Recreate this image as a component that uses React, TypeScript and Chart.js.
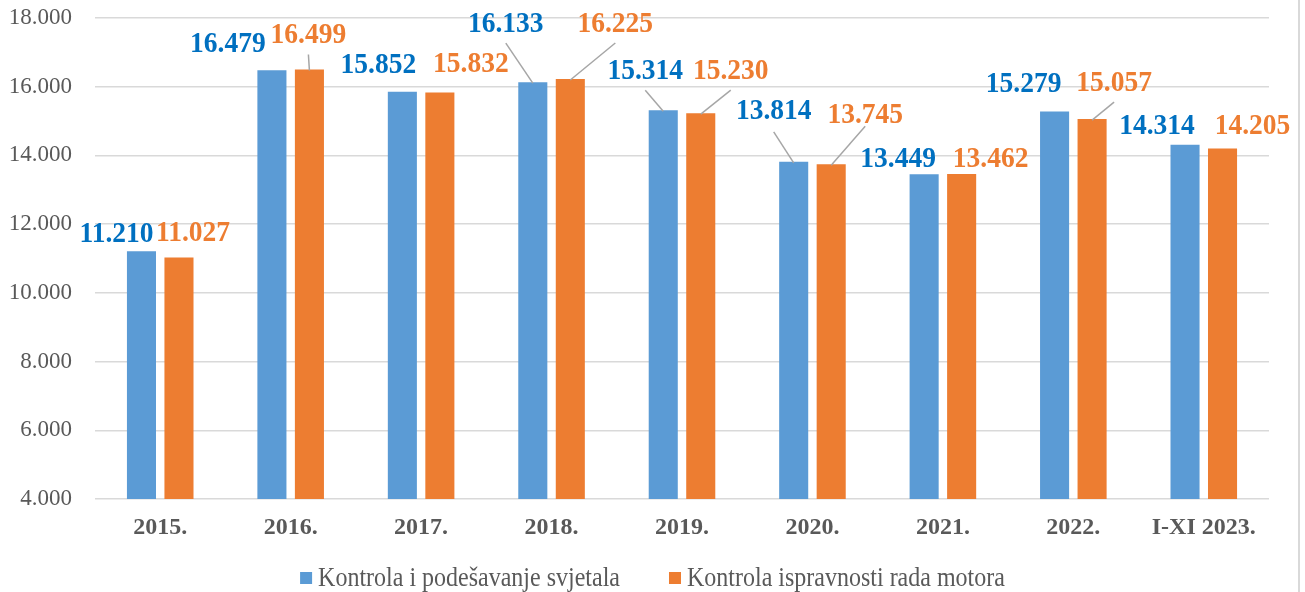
import React, { useEffect, useRef } from "react";
import { Chart, registerables } from "chart.js";

Chart.register(...registerables);

// ---------- data ----------
const categories = ["2015.", "2016.", "2017.", "2018.", "2019.", "2020.", "2021.", "2022.", "I-XI 2023."];
const seriesNames = ["Kontrola i podešavanje svjetala", "Kontrola ispravnosti rada motora"];
const lightsValues = [11210, 16479, 15852, 16133, 15314, 13814, 13449, 15279, 14314];
const engineValues = [11027, 16499, 15832, 16225, 15230, 13745, 13462, 15057, 14205];
const yMin = 4000;
const yMax = 18000;
const yStep = 2000;

// ---------- label layout (pixel offsets from bar top centre) ----------
const lightsLabelOffsets = [
  [-25, -17], [-44, -26], [-24, -27], [-27, -58], [-18, -39], [-20, -51], [-26, -15], [-31, -27], [-28, -18],
];
const engineLabelOffsets = [
  [14, -24], [-1, -34], [31, -28], [45, -55], [30, -42], [34, -49], [29, -15], [22, -36], [30, -22],
];
// distance below label centre where a leader line starts (0 = no leader)
const lightsLeaderGap = [0, 0, 0, 19, 19, 21, 0, 0, 0];
const engineLeaderGap = [0, 19, 0, 19, 19, 11, 0, 19, 0];

const SERIF = "'Liberation Serif', 'Times New Roman', serif";
const BAR_COLORS = ["#5B9BD5", "#ED7D31"];
const LABEL_COLORS = ["#0070C0", "#ED7D31"];
const TEXT_STRETCH = 1.1;

const fmt = (v: number) => {
  const s = Math.round(v).toString();
  return s.replace(/\B(?=(\d{3})+(?!\d))/g, ".");
};

const labelPlugin = {
  id: "customLabels",
  afterDatasetsDraw(chart: any) {
    const ctx = chart.ctx;
    const offsets = [lightsLabelOffsets, engineLabelOffsets];
    const gaps = [lightsLeaderGap, engineLeaderGap];
    ctx.save();
    chart.data.datasets.forEach((ds: any, di: number) => {
      const meta = chart.getDatasetMeta(di);
      meta.data.forEach((bar: any, i: number) => {
        const [dx, dy] = offsets[di][i];
        const lx = bar.x + dx;
        const ly = bar.y + dy;
        const gap = gaps[di][i];
        if (gap) {
          ctx.strokeStyle = "#A6A6A6";
          ctx.lineWidth = 1.5;
          ctx.beginPath();
          ctx.moveTo(lx, ly + gap);
          ctx.lineTo(bar.x, bar.y + 1);
          ctx.stroke();
        }
        ctx.save();
        ctx.translate(lx, ly);
        ctx.scale(1, TEXT_STRETCH);
        ctx.font = `bold 27.5px ${SERIF}`;
        ctx.fillStyle = LABEL_COLORS[di];
        ctx.textAlign = "center";
        ctx.textBaseline = "middle";
        ctx.fillText(fmt(ds.data[i]), 0, 0);
        ctx.restore();
      });
    });
    ctx.restore();
  },
  afterDraw(chart: any) {
    const ctx = chart.ctx;
    ctx.save();
    // legend
    ctx.font = `24px ${SERIF}`;
    ctx.textBaseline = "middle";
    ctx.textAlign = "left";
    const box = 12;
    const boxGap = 6;
    const itemGap = 49;
    const names = chart.data.datasets.map((d: any) => d.label);
    const widths = names.map((n: string) => ctx.measureText(n).width);
    let total = 0;
    widths.forEach((w: number, i: number) => {
      total += box + boxGap + w + (i < widths.length - 1 ? itemGap : 0);
    });
    let x = (chart.width - total) / 2;
    const cy = 578;
    names.forEach((n: string, i: number) => {
      ctx.fillStyle = BAR_COLORS[i];
      ctx.fillRect(x, cy - box / 2, box, box);
      x += box + boxGap;
      ctx.save();
      ctx.translate(x, cy + 1);
      ctx.scale(1, TEXT_STRETCH);
      ctx.fillStyle = "#595959";
      ctx.fillText(n, 0, 0);
      ctx.restore();
      x += widths[i] + itemGap;
    });
    // right frame line
    ctx.strokeStyle = "#D9D9D9";
    ctx.lineWidth = 2;
    ctx.beginPath();
    ctx.moveTo(1299, 0);
    ctx.lineTo(1299, chart.height);
    ctx.stroke();
    ctx.restore();
  },
};

export default function App() {
  const ref = useRef<HTMLCanvasElement>(null);
  useEffect(() => {
    document.body.style.margin = "0";
    const canvas = ref.current!;
    const chart = new Chart(canvas, {
      type: "bar",
      data: {
        labels: categories,
        datasets: [
          {
            label: seriesNames[0],
            data: lightsValues,
            backgroundColor: BAR_COLORS[0],
            categoryPercentage: 0.575,
            barPercentage: 0.775,
          },
          {
            label: seriesNames[1],
            data: engineValues,
            backgroundColor: BAR_COLORS[1],
            categoryPercentage: 0.575,
            barPercentage: 0.775,
          },
        ],
      },
      options: {
        animation: false,
        responsive: false,
        maintainAspectRatio: false,
        layout: { padding: { left: 0, right: 36, top: 18, bottom: 53 } },
        plugins: {
          legend: { display: false },
          tooltip: { enabled: false },
        },
        scales: {
          x: {
            grid: { display: false, drawTicks: false },
            border: { display: false },
            ticks: {
              color: "#595959",
              font: { family: SERIF, size: 24, weight: "bold" },
              padding: 14,
              maxRotation: 0,
              autoSkip: false,
            },
            afterFit: (s: any) => {
              s.height = 40;
              s.paddingLeft = 0;
              s.paddingRight = 0;
            },
          },
          y: {
            min: yMin,
            max: yMax,
            grid: { color: "#D9D9D9", lineWidth: 1.5, drawTicks: false },
            border: { display: false },
            ticks: {
              stepSize: yStep,
              color: "#595959",
              font: { family: SERIF, size: 23 },
              padding: 23,
              callback: (v: any) => fmt(Number(v)),
            },
            afterFit: (s: any) => {
              s.width = 95;
              s.paddingTop = 0;
              s.paddingBottom = 0;
            },
          },
        },
      },
      plugins: [labelPlugin],
    });
    return () => chart.destroy();
  }, []);
  return <canvas ref={ref} width={1305} height={592} style={{ display: "block" }} />;
}
